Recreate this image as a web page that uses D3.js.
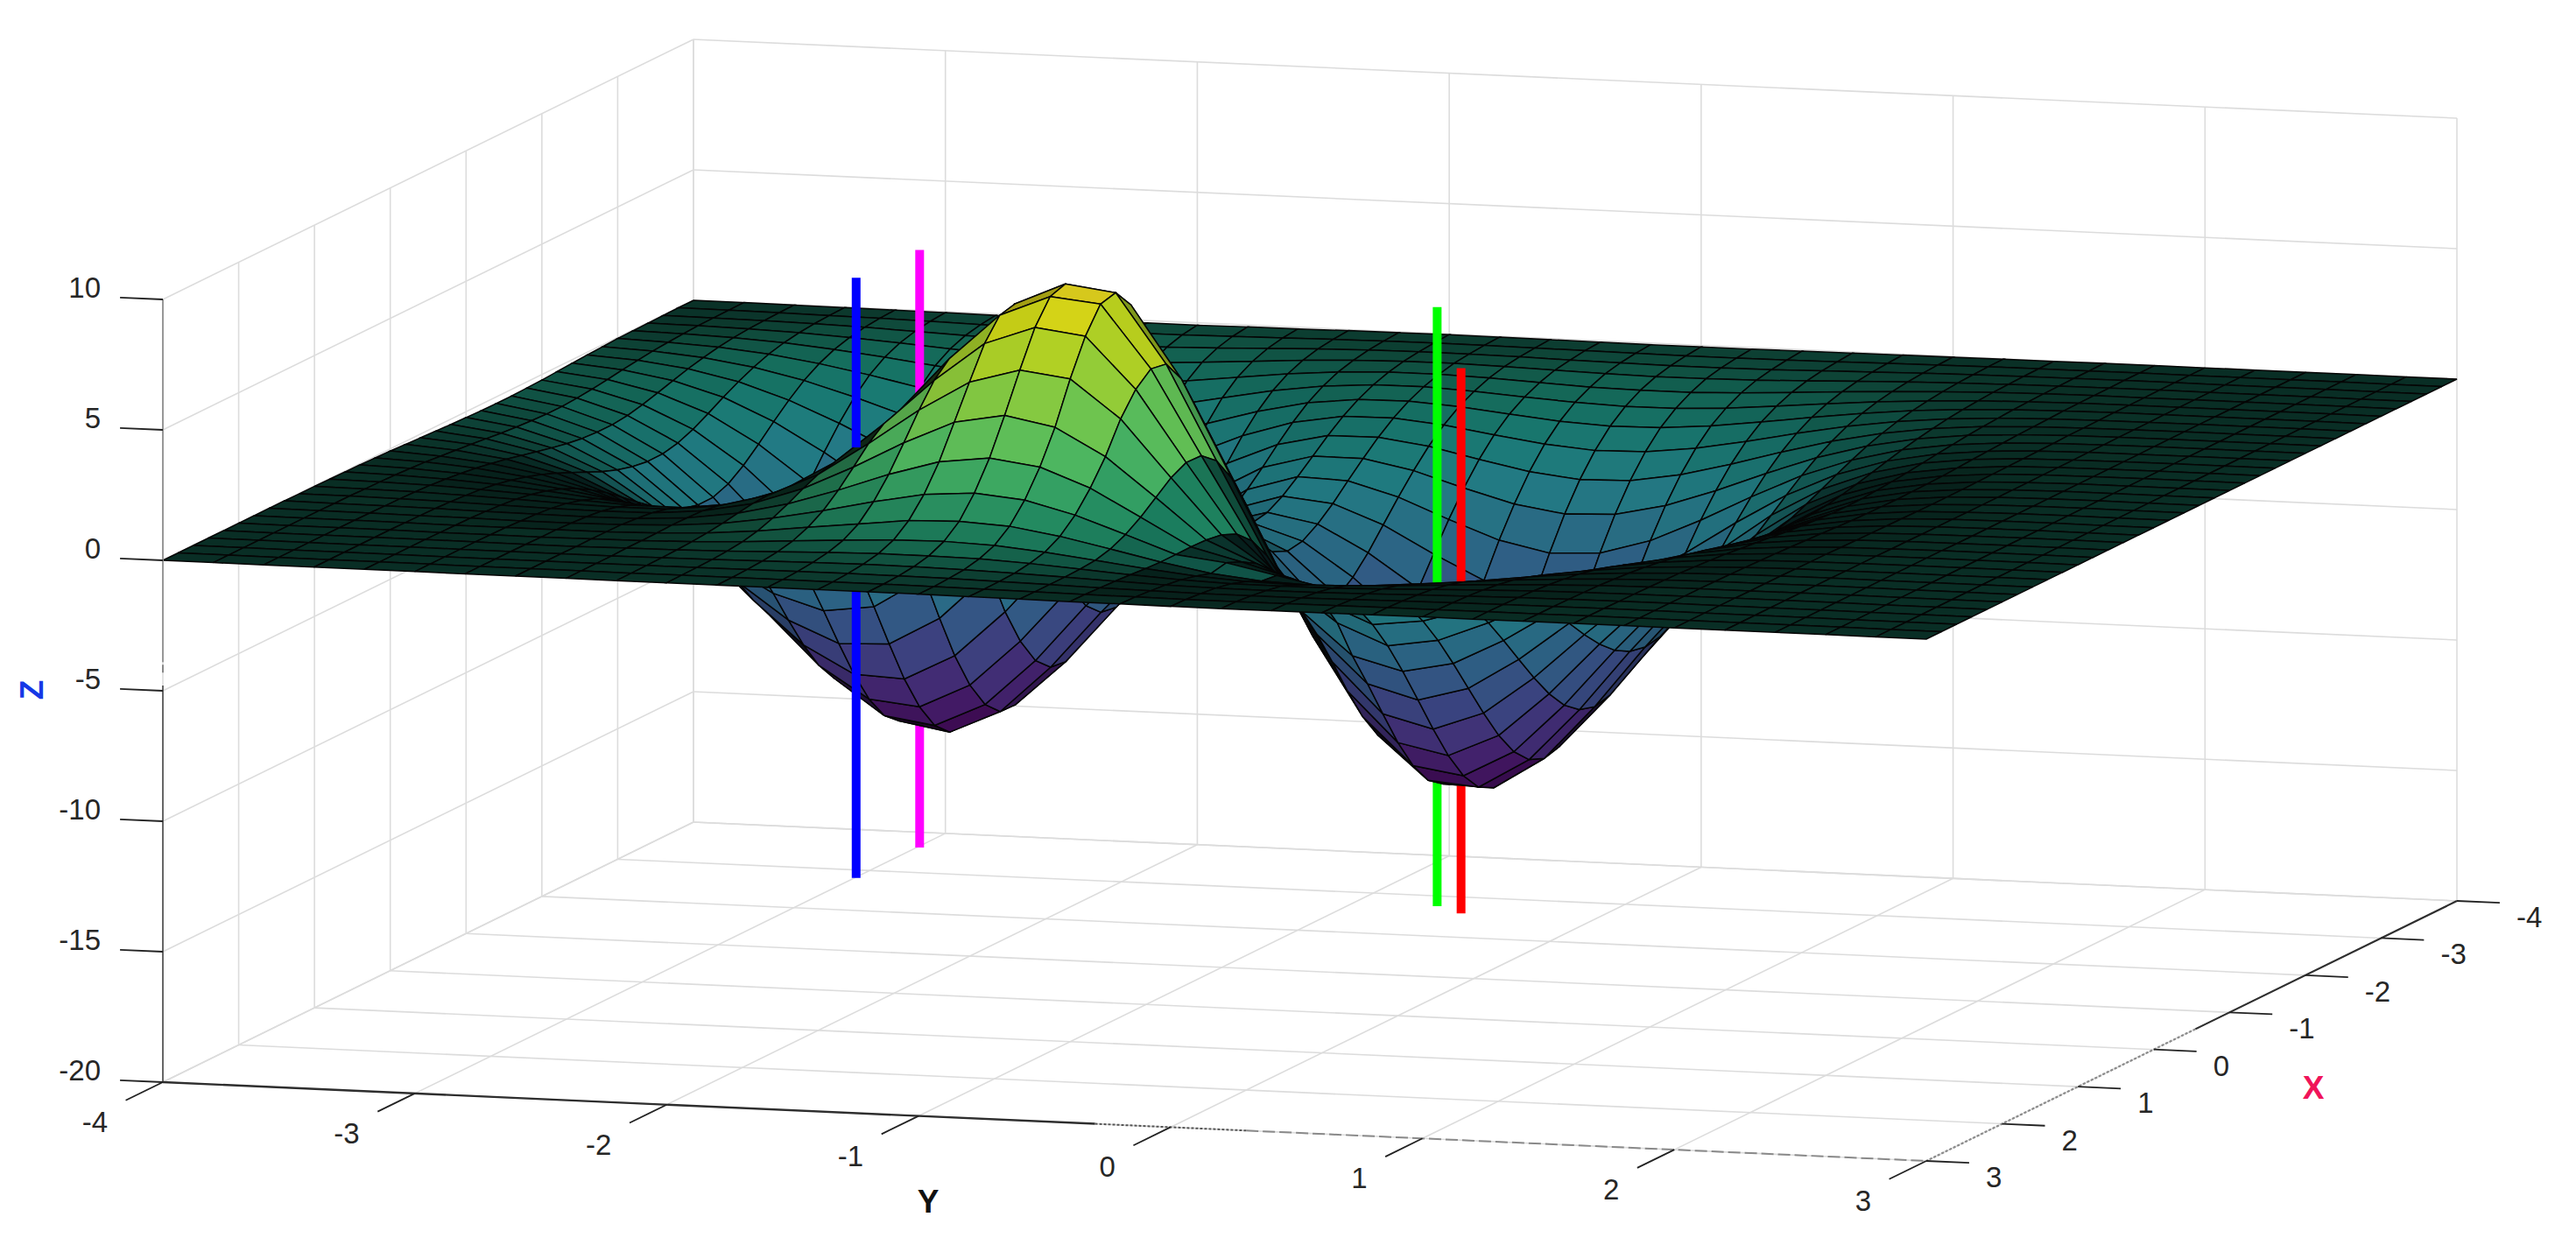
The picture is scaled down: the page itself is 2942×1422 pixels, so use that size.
<!DOCTYPE html>
<html><head><meta charset="utf-8">
<script src="https://cdn.jsdelivr.net/npm/d3@7"></script>
<style>html,body{margin:0;background:#fff}text{font-family:"Liberation Sans",Arial,sans-serif}</style>
</head><body><svg id="c" width="2942" height="1422"></svg>
<script>
// Chart values.
const xValues=[-4,-3.8,-3.6,-3.4,-3.2,-3,-2.8,-2.6,-2.4,-2.2,-2,-1.8,-1.6,-1.4,-1.2,-1,-.8,-.6,-.4,-.2,0,.2,.4,.6,.8,1,1.2,1.4,1.6,1.8,2,2.2,2.4,2.6,2.8,3];
const yValues=xValues.slice();
const xTicks=[-4,-3,-2,-1,0,1,2,3];
const yTicks=[-4,-3,-2,-1,0,1,2,3];
const zTicks=[-20,-15,-10,-5,0,5,10];
// one row per x value, one entry per y value; entries left out at the end of a row read as 0
const zRows=[
[0,0,-.01,-.02,-.03,-.04,-.06,-.08,-.09,-.09,-.09,-.07,-.06,-.04,-.03,-.02,-.03,-.04,-.05,-.06,-.06,-.06,-.05,-.04,-.03,-.02,-.01,-.01],
[0,-.01,-.02,-.04,-.06,-.09,-.13,-.17,-.19,-.19,-.18,-.15,-.12,-.09,-.07,-.06,-.06,-.08,-.09,-.11,-.12,-.12,-.11,-.09,-.06,-.04,-.02,-.01,-.01],
[-.01,-.02,-.04,-.07,-.12,-.19,-.26,-.33,-.38,-.39,-.36,-.31,-.24,-.17,-.13,-.11,-.11,-.13,-.17,-.19,-.21,-.21,-.19,-.15,-.11,-.07,-.04,-.02,-.01],
[-.02,-.03,-.07,-.13,-.23,-.35,-.49,-.62,-.71,-.73,-.68,-.57,-.45,-.32,-.24,-.19,-.18,-.22,-.27,-.32,-.35,-.34,-.31,-.25,-.18,-.12,-.07,-.04,-.02,-.01],
[-.03,-.06,-.12,-.23,-.4,-.61,-.85,-1.08,-1.23,-1.27,-1.18,-1,-.78,-.56,-.4,-.32,-.32,-.37,-.46,-.55,-.58,-.58,-.51,-.41,-.3,-.2,-.12,-.06,-.03,-.01,-.01],
[-.04,-.1,-.2,-.38,-.66,-1.01,-1.41,-1.78,-2.03,-2.09,-1.95,-1.65,-1.28,-.92,-.66,-.52,-.51,-.6,-.73,-.85,-.92,-.91,-.81,-.65,-.47,-.31,-.19,-.1,-.05,-.02,-.01],
[-.07,-.15,-.32,-.6,-1.02,-1.57,-2.19,-2.77,-3.15,-3.25,-3.04,-2.57,-1.98,-1.43,-1.01,-.8,-.78,-.9,-1.1,-1.29,-1.39,-1.36,-1.21,-.97,-.71,-.47,-.28,-.15,-.07,-.03,-.01],
[-.1,-.22,-.46,-.87,-1.49,-2.29,-3.2,-4.03,-4.59,-4.74,-4.42,-3.74,-2.89,-2.08,-1.48,-1.16,-1.14,-1.32,-1.61,-1.88,-2.04,-2,-1.78,-1.43,-1.04,-.68,-.41,-.22,-.11,-.05,-.02,-.01],
[-.13,-.3,-.63,-1.18,-2.03,-3.12,-4.36,-5.51,-6.27,-6.48,-6.03,-5.11,-3.96,-2.85,-2.04,-1.61,-1.59,-1.85,-2.27,-2.65,-2.87,-2.82,-2.51,-2.02,-1.47,-.97,-.58,-.31,-.15,-.07,-.03,-.01],
[-.17,-.39,-.81,-1.52,-2.61,-4.01,-5.61,-7.07,-8.05,-8.32,-7.75,-6.57,-5.08,-3.68,-2.64,-2.12,-2.12,-2.5,-3.08,-3.61,-3.9,-3.83,-3.41,-2.75,-2,-1.31,-.78,-.42,-.2,-.09,-.03,-.01],
[-.21,-.47,-.98,-1.84,-3.14,-4.84,-6.77,-8.53,-9.72,-10.03,-9.34,-7.91,-6.11,-4.43,-3.2,-2.62,-2.69,-3.23,-4,-4.71,-5.12,-5.03,-4.47,-3.6,-2.62,-1.72,-1.03,-.55,-.27,-.12,-.05,-.02],
[-.23,-.53,-1.11,-2.08,-3.56,-5.48,-7.66,-9.66,-11.01,-11.35,-10.57,-8.95,-6.91,-5.02,-3.67,-3.08,-3.28,-4.01,-5.04,-5.97,-6.47,-6.37,-5.67,-4.57,-3.32,-2.18,-1.3,-.7,-.34,-.15,-.06,-.02,-.01],
[-.25,-.57,-1.18,-2.21,-3.79,-5.83,-8.15,-10.29,-11.72,-12.06,-11.22,-9.48,-7.31,-5.31,-3.94,-3.42,-3.78,-4.79,-6.09,-7.25,-7.89,-7.77,-6.92,-5.58,-4.06,-2.67,-1.59,-.86,-.41,-.18,-.07,-.03,-.01],
[-.25,-.57,-1.18,-2.22,-3.8,-5.85,-8.18,-10.31,-11.73,-12.07,-11.2,-9.41,-7.22,-5.21,-3.9,-3.54,-4.15,-5.45,-7.07,-8.49,-9.27,-9.15,-8.14,-6.57,-4.78,-3.14,-1.87,-1.01,-.49,-.22,-.08,-.03,-.01],
[-.24,-.54,-1.14,-2.13,-3.65,-5.62,-7.85,-9.89,-11.24,-11.53,-10.64,-8.87,-6.68,-4.74,-3.53,-3.37,-4.25,-5.9,-7.85,-9.55,-10.49,-10.36,-9.25,-7.45,-5.43,-3.57,-2.13,-1.15,-.55,-.25,-.09,-.03,-.01],
[-.22,-.5,-1.05,-1.97,-3.37,-5.18,-7.23,-9.11,-10.32,-10.53,-9.61,-7.84,-5.7,-3.82,-2.76,-2.8,-3.99,-6,-8.31,-10.28,-11.39,-11.31,-10.11,-8.16,-5.94,-3.91,-2.33,-1.26,-.6,-.27,-.1,-.04,-.01],
[-.2,-.45,-.93,-1.75,-2.99,-4.59,-6.41,-8.05,-9.08,-9.18,-8.2,-6.43,-4.29,-2.47,-1.52,-1.81,-3.3,-5.69,-8.36,-10.63,-11.92,-11.89,-10.65,-8.6,-6.26,-4.12,-2.46,-1.33,-.64,-.28,-.11,-.04,-.01],
[-.17,-.38,-.79,-1.49,-2.55,-3.91,-5.44,-6.81,-7.62,-7.55,-6.48,-4.66,-2.51,-.68,.17,-.31,-2.14,-4.9,-7.94,-10.5,-11.97,-12.03,-10.82,-8.75,-6.38,-4.2,-2.5,-1.35,-.65,-.29,-.11,-.04,-.01],
[-.14,-.31,-.65,-1.22,-2.08,-3.19,-4.43,-5.5,-6.08,-5.84,-4.65,-2.73,-.49,1.36,2.18,1.52,-.6,-3.71,-7.08,-9.9,-11.55,-11.72,-10.58,-8.58,-6.26,-4.12,-2.46,-1.33,-.64,-.28,-.11,-.04,-.01],
[-.11,-.25,-.51,-.96,-1.63,-2.51,-3.46,-4.25,-4.59,-4.17,-2.86,-.81,1.54,3.49,4.29,3.51,.95,-2.24,-5.88,-8.91,-10.7,-11,-9.99,-8.12,-5.93,-3.91,-2.33,-1.26,-.6,-.27,-.1,-.04,-.01],
[-.08,-.19,-.39,-.72,-1.23,-1.88,-2.58,-3.12,-3.25,-2.67,-1.24,.9,3.34,5.3,6.1,5.6,2.95,-.72,-4.5,-7.64,-9.53,-9.94,-9.08,-7.4,-5.41,-3.57,-2.13,-1.15,-.55,-.25,-.09,-.03,-.01],
[-.06,-.13,-.28,-.53,-.89,-1.36,-1.84,-2.18,-2.14,-1.44,.04,2.21,4.6,6.65,7.5,7.1,4.35,.63,-3.13,-6.24,-8.14,-8.64,-7.94,-6.5,-4.76,-3.14,-1.87,-1.01,-.49,-.22,-.08,-.03,-.01],
[-.04,-.09,-.2,-.37,-.62,-.93,-1.25,-1.42,-1.26,-.52,.92,3,5.3,7.25,8.1,7.85,5.2,1.58,-1.97,-4.91,-6.71,-7.24,-6.71,-5.51,-4.04,-2.67,-1.59,-.86,-.41,-.18,-.07,-.03,-.01],
[-.03,-.06,-.13,-.25,-.41,-.62,-.81,-.88,-.66,.05,1.37,3.25,5.35,7.1,7.9,7.7,5.3,2.06,-1.11,-3.74,-5.35,-5.86,-5.47,-4.5,-3.3,-2.18,-1.3,-.7,-.34,-.15,-.06,-.02,-.01],
[-.02,-.04,-.08,-.16,-.26,-.4,-.5,-.51,-.29,.34,1.46,3.05,4.8,6.3,7,6.75,4.8,2.08,-.57,-2.4,-3.8,-4.59,-4.3,-3.54,-2.6,-1.72,-1.03,-.55,-.27,-.12,-.05,-.02],
[-.01,-.03,-.05,-.1,-.16,-.24,-.29,-.28,-.08,.42,1.31,2.58,3.95,5.1,5.65,5.4,3.95,1.78,-.32,-1.6,-2.7,-3.49,-3.27,-2.7,-1.99,-1.31,-.78,-.42,-.2,-.09,-.03,-.01],
[-.01,-.01,-.03,-.06,-.1,-.14,-.16,-.14,.02,.39,1.05,1.96,2.98,3.85,4.2,3.83,2.79,1.31,-.23,-1.05,-1.85,-2.57,-2.41,-1.99,-1.46,-.97,-.58,-.31,-.15,-.07,-.03,-.01],
[0,-.01,-.02,-.03,-.06,-.08,-.09,-.07,.04,.3,.75,1.36,2.05,2.62,2.85,2.59,1.87,.84,-.21,-.7,-1.25,-1.83,-1.71,-1.41,-1.03,-.68,-.41,-.22,-.11,-.05,-.02,-.01],
[0,0,-.01,-.02,-.03,-.05,-.05,-.02,.05,.2,.49,.86,1.29,1.65,1.79,1.61,1.12,.46,-.22,-.45,-.85,-1.25,-1.17,-.96,-.71,-.47,-.28,-.15,-.07,-.03,-.01],
[0,0,0,-.01,-.02,-.02,-.02,-.01,.03,.12,.28,.51,.72,.94,.99,.89,.59,.19,-.22,-.57,-.78,-.85,-.79,-.64,-.47,-.31,-.19,-.1,-.05,-.02,-.01],
[0,0,0,0,-.01,-.01,-.02,0,.02,.07,.15,.27,.38,.48,.51,.44,.27,.04,-.19,-.39,-.51,-.55,-.5,-.41,-.3,-.2,-.12,-.06,-.03,-.01,-.01],
[0,0,0,0,0,0,-.01,-.01,.02,.04,.08,.14,.2,.24,.24,.21,.12,-.01,-.14,-.25,-.31,-.32,-.31,-.25,-.18,-.12,-.07,-.04,-.02,-.01],
[0,0,0,0,0,0,0,0,0,.02,.04,.07,.1,.12,.11,.08,.03,-.03,-.1,-.16,-.19,-.2,-.19,-.15,-.11,-.07,-.04,-.02,-.01],
[0,0,0,0,0,0,0,0,0,.01,.02,.03,.04,.05,.04,.03,0,-.03,-.07,-.1,-.12,-.12,-.11,-.09,-.06,-.04,-.02,-.01],
[0,0,0,0,0,0,0,0,0,0,.01,.01,.01,.01,.01,0,-.01,-.03,-.04,-.05,-.06,-.06,-.05,-.04,-.03,-.02,-.01,-.01],
[0,0,0,0,0,0,0,0,0,0,0,0,0,0,0,0,-.01,-.02,-.03,-.03,-.04,-.04,-.03,-.03,-.02,-.01,-.01]
];
const stemColors=["#0000ff","#ff00ff","#00ff00","#ff0000"];
const stemX=[.8,-1.5,-.75,-.6];
const stemY=[-1.91,-2.35,-.07,.07];
const stemZLow=[-14.4,-16.7,-16.9,-16.9];
const stemZHigh=[8.6,6.2,6.06,4];

const zAt=(i,j)=>zRows[i][j]??0;
// oblique projection of the box, one scale per data axis and screen direction
const hY=d3.scaleLinear([-4,3],[186,2200]), hX=d3.scaleLinear([3,-4],[0,606]);
const vY=d3.scaleLinear([-4,3],[0,90]), vX=d3.scaleLinear([3,-4],[0,-297]);
const vZ=d3.scaleLinear([-20,10],[1236,342]);
const P=(x,y,z)=>[hY(y)+hX(x),vZ(z)+vY(y)+vX(x)];
const color=d3.scaleSequential(d3.interpolateViridis).domain([-12.1,8.2]);
const svg=d3.select("#c");
const line=d3.line();
const seg=(g,a,b,stroke,w,dash)=>g.append("path").attr("d",line([a,b])).attr("fill","none").attr("stroke",stroke).attr("stroke-width",w).attr("stroke-dasharray",dash||null);

// walls and floor
const grid=svg.append("g");
const gc="#dcdcdc",gw=1.6;
yTicks.forEach(y=>{seg(grid,P(-4,y,-20),P(-4,y,10),gc,gw);seg(grid,P(-4,y,-20),P(3,y,-20),gc,gw);});
xTicks.forEach(x=>{seg(grid,P(x,-4,-20),P(x,-4,10),gc,gw);seg(grid,P(x,-4,-20),P(x,3,-20),gc,gw);});
zTicks.forEach(z=>{seg(grid,P(3,-4,z),P(-4,-4,z),gc,gw);seg(grid,P(-4,-4,z),P(-4,3,z),gc,gw);});

// surface, drawn back to front; each cell darkens where it is seen edge-on
const marks=[];
const stemCell=stemX.map((x,k)=>{
  const i=Math.min(34,d3.bisectRight(xValues,x)-1), j=Math.min(34,d3.bisectRight(yValues,stemY[k])-1);
  const zs=(zAt(i,j)+zAt(i+1,j)+zAt(i,j+1)+zAt(i+1,j+1))/4;
  return {i,j,zs};
});
const lwOf=d3.scaleLinear([0,1,3],[2.0,1.7,.6]).clamp(true);
for(let i=0;i<xValues.length-1;i++)for(let j=0;j<yValues.length-1;j++){
  stemCell.forEach((c,k)=>{if(c.i===i&&c.j===j)marks.push({t:"s",k,a:stemZLow[k],b:c.zs});});
  const p=[P(xValues[i],yValues[j],zAt(i,j)),P(xValues[i],yValues[j+1],zAt(i,j+1)),P(xValues[i+1],yValues[j+1],zAt(i+1,j+1)),P(xValues[i+1],yValues[j],zAt(i+1,j))];
  const u=[(p[3][0]-p[0][0]+p[2][0]-p[1][0])/4,(p[3][1]-p[0][1]+p[2][1]-p[1][1])/4];
  const v=[(p[1][0]-p[0][0]+p[2][0]-p[3][0])/8,(p[1][1]-p[0][1]+p[2][1]-p[3][1])/8];
  const area=Math.abs(u[0]*v[1]-u[1]*v[0])||1;
  const zm=(zAt(i,j)+zAt(i,j+1)+zAt(i+1,j)+zAt(i+1,j+1))/4;
  const open=Math.max(.2,Math.min(1,1-lwOf(Math.abs(zm))*(Math.hypot(...u)+Math.hypot(...v))/area));
  marks.push({t:"c",p,fill:d3.interpolateRgb("#000",color(zm))(open)});
  stemCell.forEach((c,k)=>{if(c.i===i&&c.j===j)marks.push({t:"s",k,a:c.zs,b:stemZHigh[k]});});
}
svg.append("g").selectAll("path").data(marks).join("path")
 .attr("d",d=>d.t==="c"?line(d.p)+"Z":line([P(stemX[d.k],stemY[d.k],d.a),P(stemX[d.k],stemY[d.k],d.b)]))
 .attr("fill",d=>d.t==="c"?d.fill:"none")
 .attr("stroke",d=>d.t==="c"?"#050505":stemColors[d.k])
 .attr("stroke-width",d=>d.t==="c"?1.5:10);

// axes
const ax=svg.append("g");
seg(ax,P(3,-4,-20),P(3,-4,-4.8),"#666",2);
seg(ax,P(3,-4,-4.3),P(3,-4,-4),"#888",2);
seg(ax,P(3,-4,-3.9),P(3,-4,10),"#909090",1.8);
seg(ax,P(3,-4,-20),P(3,-.3,-20),"#2e2e2e",2.4);
seg(ax,P(3,-.3,-20),P(3,.3,-20),"#555",2,"3 2");
seg(ax,P(3,.3,-20),P(3,3,-20),"#8a8a8a",2,"14 5");
seg(ax,P(-4,3,-20),P(-.55,3,-20),"#2e2e2e",2.2);
seg(ax,P(-.55,3,-20),P(3,3,-20),"#8a8a8a",2.2,"3 2");
const tc="#262626";
const lab=(x,y,t,anchor)=>svg.append("text").attr("x",x).attr("y",y).attr("text-anchor",anchor).attr("font-size",33).attr("fill",tc).text(t);
zTicks.forEach(z=>{const a=P(3,-4,z),b=P(3,-4.17,z);seg(ax,a,b,"#222",1.8);lab(115,a[1]-2,z,"end");});
yTicks.forEach(y=>{const a=P(3,y,-20),b=P(3.49,y,-20);seg(ax,a,b,"#222",1.8);lab(a[0]-63,a[1]+57,y,"end");});
xTicks.forEach(x=>{const a=P(x,3,-20),b=P(x,3.17,-20);seg(ax,a,b,"#222",1.8);lab(a[0]+68,a[1]+30,x,"start");});
const title=(t,x,y,c,rot)=>svg.append("text").attr("text-anchor","middle").attr("font-size",37).attr("font-weight","bold").attr("fill",c)
  .attr("transform",`translate(${x},${y})`+(rot?` rotate(${rot})`:"")).text(t);
title("Y",1060,1385,"#111");
title("X",2642,1255,"#f0145a");
title("Z",49,788,"#1538e6",-90);
</script></body></html>
